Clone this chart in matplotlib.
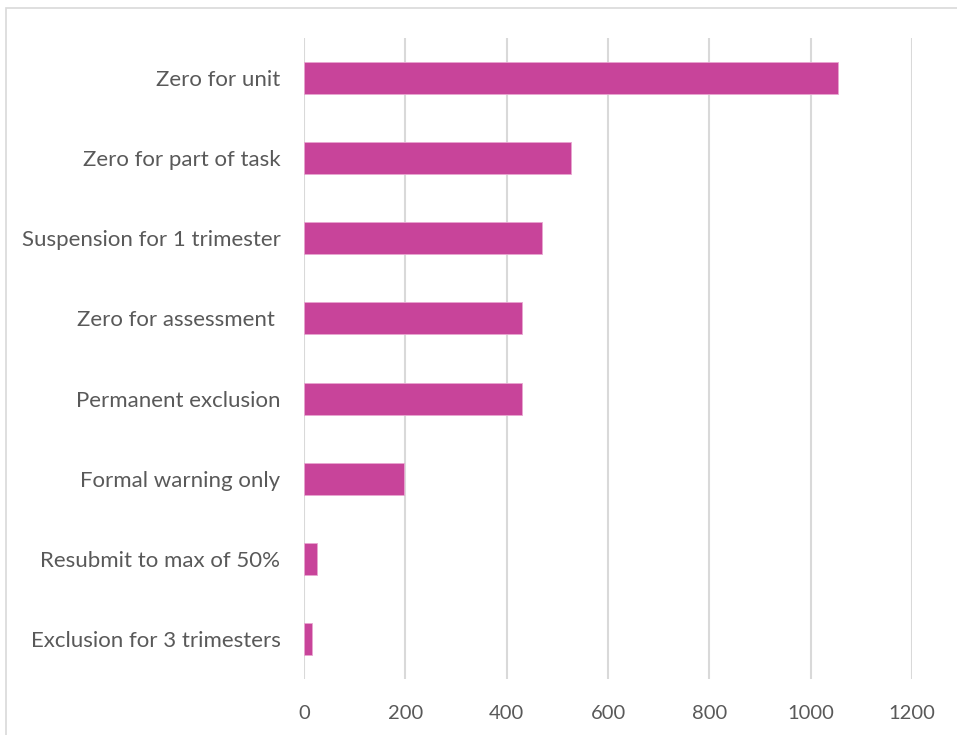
import matplotlib
matplotlib.use("Agg")
import matplotlib.pyplot as plt
from matplotlib.patches import Rectangle

categories = [
    "Zero for unit",
    "Zero for part of task",
    "Suspension for 1 trimester",
    "Zero for assessment ",
    "Permanent exclusion",
    "Formal warning only",
    "Resubmit to max of 50%",
    "Exclusion for 3 trimesters",
]
values = [1054, 526, 470, 431, 430, 198, 25, 16]
xticks = [0, 200, 400, 600, 800, 1000, 1200]

plt.rcParams['font.family'] = ['Lato', 'DejaVu Sans']

W, H = 957, 735
fig = plt.figure(figsize=(W / 100, H / 100), dpi=100)
fig.patches.append(Rectangle((6 / W, -0.05), 1.2, (H - 8) / H + 0.05, transform=fig.transFigure,
                             fill=False, edgecolor='#D9D9D9', linewidth=1.2))

left, right = 304, 912
top, bottom = 38, 679
ax = fig.add_axes([left / W, 1 - bottom / H, (right - left) / W, (bottom - top) / H])

y = list(range(len(categories)))
ax.barh(y, values, height=0.4, color='#C8449A', edgecolor='#E8A6D0', linewidth=0.6, zorder=3)
ax.set_ylim(len(categories) - 0.5, -0.5)
ax.set_xlim(0, 1200)
ax.set_xticks(xticks)
ax.set_xticklabels([str(t) for t in xticks])
ax.set_yticks(y)
ax.set_yticklabels(categories)
ax.grid(axis='x', color='#D9D9D9', linewidth=1.5, zorder=0)
for s in ax.spines.values():
    s.set_visible(False)
ax.tick_params(axis='both', length=0, labelcolor='#595959')
ax.tick_params(axis='y', pad=17, labelsize=16)
ax.tick_params(axis='x', pad=19, labelsize=14.5)

fig.savefig("out.png", dpi=100)
